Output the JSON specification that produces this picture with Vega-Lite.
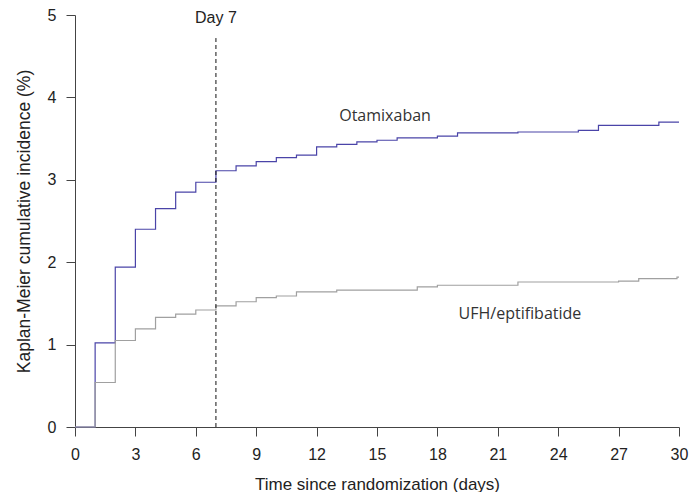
{
  "$schema": "https://vega.github.io/schema/vega-lite/v6.json",
  "autosize": "none",
  "width": 604,
  "height": 412,
  "padding": {"left": 75, "top": 15, "right": 17, "bottom": 65},
  "background": "white",
  "config": {
    "view": {"stroke": null},
    "axis": {
      "grid": false,
      "domainColor": "#444444",
      "tickColor": "#444444",
      "labelColor": "#222222",
      "titleColor": "#222222",
      "labelFont": "Liberation Sans",
      "titleFont": "Liberation Sans",
      "labelFontSize": 16,
      "titleFontSize": 17,
      "titleFontWeight": "normal",
      "tickSize": 9,
      "labelFlush": false
    }
  },
  "datasets": {
    "curves": [
      {"arm": "Otamixaban", "day": 0, "pct": 0},
      {"arm": "Otamixaban", "day": 1, "pct": 1.02},
      {"arm": "Otamixaban", "day": 2, "pct": 1.94},
      {"arm": "Otamixaban", "day": 3, "pct": 2.40},
      {"arm": "Otamixaban", "day": 4, "pct": 2.65},
      {"arm": "Otamixaban", "day": 5, "pct": 2.85},
      {"arm": "Otamixaban", "day": 6, "pct": 2.97},
      {"arm": "Otamixaban", "day": 7, "pct": 3.11},
      {"arm": "Otamixaban", "day": 8, "pct": 3.17},
      {"arm": "Otamixaban", "day": 9, "pct": 3.22},
      {"arm": "Otamixaban", "day": 10, "pct": 3.27},
      {"arm": "Otamixaban", "day": 11, "pct": 3.30},
      {"arm": "Otamixaban", "day": 12, "pct": 3.40},
      {"arm": "Otamixaban", "day": 13, "pct": 3.43},
      {"arm": "Otamixaban", "day": 14, "pct": 3.46},
      {"arm": "Otamixaban", "day": 15, "pct": 3.48},
      {"arm": "Otamixaban", "day": 16, "pct": 3.51},
      {"arm": "Otamixaban", "day": 18, "pct": 3.53},
      {"arm": "Otamixaban", "day": 19, "pct": 3.57},
      {"arm": "Otamixaban", "day": 22, "pct": 3.58},
      {"arm": "Otamixaban", "day": 25, "pct": 3.60},
      {"arm": "Otamixaban", "day": 26, "pct": 3.66},
      {"arm": "Otamixaban", "day": 29, "pct": 3.70},
      {"arm": "Otamixaban", "day": 30, "pct": 3.70},
      {"arm": "UFH/eptifibatide", "day": 0, "pct": 0},
      {"arm": "UFH/eptifibatide", "day": 1, "pct": 0.54},
      {"arm": "UFH/eptifibatide", "day": 2, "pct": 1.05},
      {"arm": "UFH/eptifibatide", "day": 3, "pct": 1.19},
      {"arm": "UFH/eptifibatide", "day": 4, "pct": 1.33},
      {"arm": "UFH/eptifibatide", "day": 5, "pct": 1.37},
      {"arm": "UFH/eptifibatide", "day": 6, "pct": 1.42},
      {"arm": "UFH/eptifibatide", "day": 7, "pct": 1.47},
      {"arm": "UFH/eptifibatide", "day": 8, "pct": 1.52},
      {"arm": "UFH/eptifibatide", "day": 9, "pct": 1.57},
      {"arm": "UFH/eptifibatide", "day": 10, "pct": 1.59},
      {"arm": "UFH/eptifibatide", "day": 11, "pct": 1.64},
      {"arm": "UFH/eptifibatide", "day": 13, "pct": 1.66},
      {"arm": "UFH/eptifibatide", "day": 17, "pct": 1.70},
      {"arm": "UFH/eptifibatide", "day": 18, "pct": 1.72},
      {"arm": "UFH/eptifibatide", "day": 22, "pct": 1.76},
      {"arm": "UFH/eptifibatide", "day": 27, "pct": 1.77},
      {"arm": "UFH/eptifibatide", "day": 28, "pct": 1.80},
      {"arm": "UFH/eptifibatide", "day": 29.9, "pct": 1.82},
      {"arm": "UFH/eptifibatide", "day": 30, "pct": 1.82}
    ],
    "labels": [
      {"label": "Otamixaban", "day": 15.4, "pct": 3.78},
      {"label": "UFH/eptifibatide", "day": 22.1, "pct": 1.37}
    ],
    "marker": [
      {"label": "Day 7", "day": 7, "pct": 0, "top": 4.72, "labelY": 4.96}
    ]
  },
  "layer": [
    {
      "data": {"name": "curves"},
      "mark": {"type": "line", "interpolate": "step-after", "strokeWidth": 1.2, "clip": false},
      "encoding": {
        "x": {
          "field": "day", "type": "quantitative",
          "scale": {"domain": [0, 30], "nice": false, "zero": false},
          "axis": {"values": [0, 3, 6, 9, 12, 15, 18, 21, 24, 27, 30], "format": "d", "labelPadding": 10, "title": "Time since randomization (days)", "titlePadding": 14}
        },
        "y": {
          "field": "pct", "type": "quantitative",
          "scale": {"domain": [0, 5], "nice": false},
          "axis": {"values": [0, 1, 2, 3, 4, 5], "format": "d", "labelPadding": 10, "title": "Kaplan-Meier cumulative incidence (%)", "titlePadding": 14, "titleFontSize": 17.5}
        },
        "color": {
          "field": "arm", "type": "nominal",
          "scale": {"domain": ["Otamixaban", "UFH/eptifibatide"], "range": ["#4a44a8", "#a0a0a0"]},
          "legend": null
        }
      }
    },
    {
      "data": {"name": "marker"},
      "mark": {"type": "rule", "color": "#111111", "strokeDash": [4, 3], "strokeWidth": 1},
      "encoding": {
        "x": {"field": "day", "type": "quantitative"},
        "y": {"field": "pct", "type": "quantitative"},
        "y2": {"field": "top"}
      }
    },
    {
      "data": {"name": "marker"},
      "mark": {"type": "text", "font": "Liberation Sans", "fontSize": 16, "color": "#222222", "baseline": "middle", "align": "center"},
      "encoding": {
        "x": {"field": "day", "type": "quantitative"},
        "y": {"field": "labelY", "type": "quantitative"},
        "text": {"field": "label"}
      }
    },
    {
      "data": {"name": "labels"},
      "mark": {"type": "text", "font": "Open Sans", "fontSize": 16, "color": "#333333", "baseline": "middle", "align": "center"},
      "encoding": {
        "x": {"field": "day", "type": "quantitative"},
        "y": {"field": "pct", "type": "quantitative"},
        "text": {"field": "label"}
      }
    }
  ]
}
